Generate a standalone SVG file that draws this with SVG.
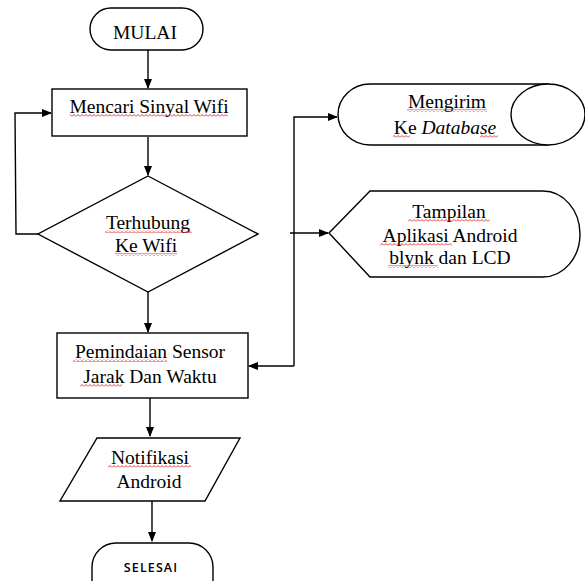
<svg xmlns="http://www.w3.org/2000/svg" width="585" height="581" viewBox="0 0 585 581">
<style>
.s{fill:#fff;stroke:#000;stroke-width:1.4}
.t{font-family:"Liberation Serif","Times New Roman",serif;font-size:19.5px;fill:#000;text-anchor:middle}
.c{fill:none;stroke:#000;stroke-width:1.4}
.q{fill:url(#sq)}
</style>
<defs>
<marker id="a" markerWidth="10" markerHeight="8" refX="9" refY="4" orient="auto" markerUnits="userSpaceOnUse">
<path d="M0,0 L10,4 L0,8 Z" fill="#000"/>
</marker>
<pattern id="sq" width="4" height="3" patternUnits="userSpaceOnUse">
<path d="M0,2.5 L2,0.5 L4,2.5" fill="none" stroke="#e02020" stroke-width="0.9"/>
</pattern>
</defs>
<rect width="585" height="581" fill="#fff"/>
<g id="connectors">
<path class="c" d="M148,50 L148,88" marker-end="url(#a)"/>
<path class="c" d="M148,137 L148,175" marker-end="url(#a)"/>
<path class="c" d="M38,234 L16,234 L15,113 L51,113" marker-end="url(#a)"/>
<path class="c" d="M148,292 L148,332" marker-end="url(#a)"/>
<path class="c" d="M150,398 L150,436" marker-end="url(#a)"/>
<path class="c" d="M152,501 L152,541" marker-end="url(#a)"/>
<path class="c" d="M294,366 L294,117 L337,117" marker-end="url(#a)"/>
<path class="c" d="M290,233 L328,233" marker-end="url(#a)"/>
<path class="c" d="M294,366 L249,366" marker-end="url(#a)"/>
</g>
<g id="mulai">
<rect class="s" x="90" y="8" width="113" height="42" rx="21"/>
<text class="t" x="145" y="39">MULAI</text>
</g>
<g id="mencari">
<rect class="s" x="52" y="89" width="195" height="47"/>
<text class="t" x="149" y="113">Mencari Sinyal Wifi</text>
<rect class="q" x="70" y="114" width="158" height="3"/>
</g>
<g id="terhubung">
<polygon class="s" points="148,176 258,234 148,292 38,234"/>
<text class="t" x="148" y="229">Terhubung</text>
<text class="t" x="146" y="252">Ke Wifi</text>
<rect class="q" x="105" y="230" width="87" height="3"/>
<rect class="q" x="115" y="253" width="62" height="3"/>
</g>
<g id="pemindaian">
<rect class="s" x="57" y="333" width="191" height="65"/>
<text class="t" x="150" y="358">Pemindaian Sensor</text>
<text class="t" x="150" y="383">Jarak Dan Waktu</text>
<rect class="q" x="73" y="359" width="94" height="3"/>
<rect class="q" x="80" y="384" width="42" height="3"/>
</g>
<g id="notifikasi">
<polygon class="s" points="97,438 240,438 205,501 60,501"/>
<text class="t" x="150" y="464">Notifikasi</text>
<text class="t" x="149" y="488">Android</text>
<rect class="q" x="108" y="465" width="83" height="3"/>
</g>
<g id="selesai">
<rect class="s" x="92" y="543" width="121" height="60" rx="24"/>
<text x="151" y="572" font-family="'Open Sans','Noto Sans',sans-serif" font-size="12.5" font-weight="600" letter-spacing="1.1" text-anchor="middle" fill="#000">SELESAI</text>
</g>
<g id="mengirim">
<path class="s" d="M370,84 L548,84 L548,145 L370,145 A32,30.5 0 0 1 370,84 Z"/>
<ellipse class="s" cx="548" cy="114.5" rx="37" ry="30.5"/>
<text class="t" x="447" y="108">Mengirim</text>
<text class="t" x="445" y="134">Ke <tspan font-style="italic">Database</tspan></text>
<rect class="q" x="407" y="109" width="80" height="3"/>
<rect class="q" x="393" y="135" width="17" height="3"/>
<rect class="q" x="480" y="135" width="18" height="3"/>
</g>
<g id="tampilan">
<path class="s" d="M329,233 L370,191 L543,191 A37,43 0 0 1 543,277 L370,277 Z"/>
<text class="t" x="449" y="218">Tampilan</text>
<text class="t" x="450" y="242">Aplikasi Android</text>
<text class="t" x="450" y="264">blynk dan LCD</text>
<rect class="q" x="408" y="219" width="82" height="3"/>
<rect class="q" x="380" y="243" width="72" height="3"/>
<rect class="q" x="388" y="265" width="50" height="3"/>
</g>
</svg>
